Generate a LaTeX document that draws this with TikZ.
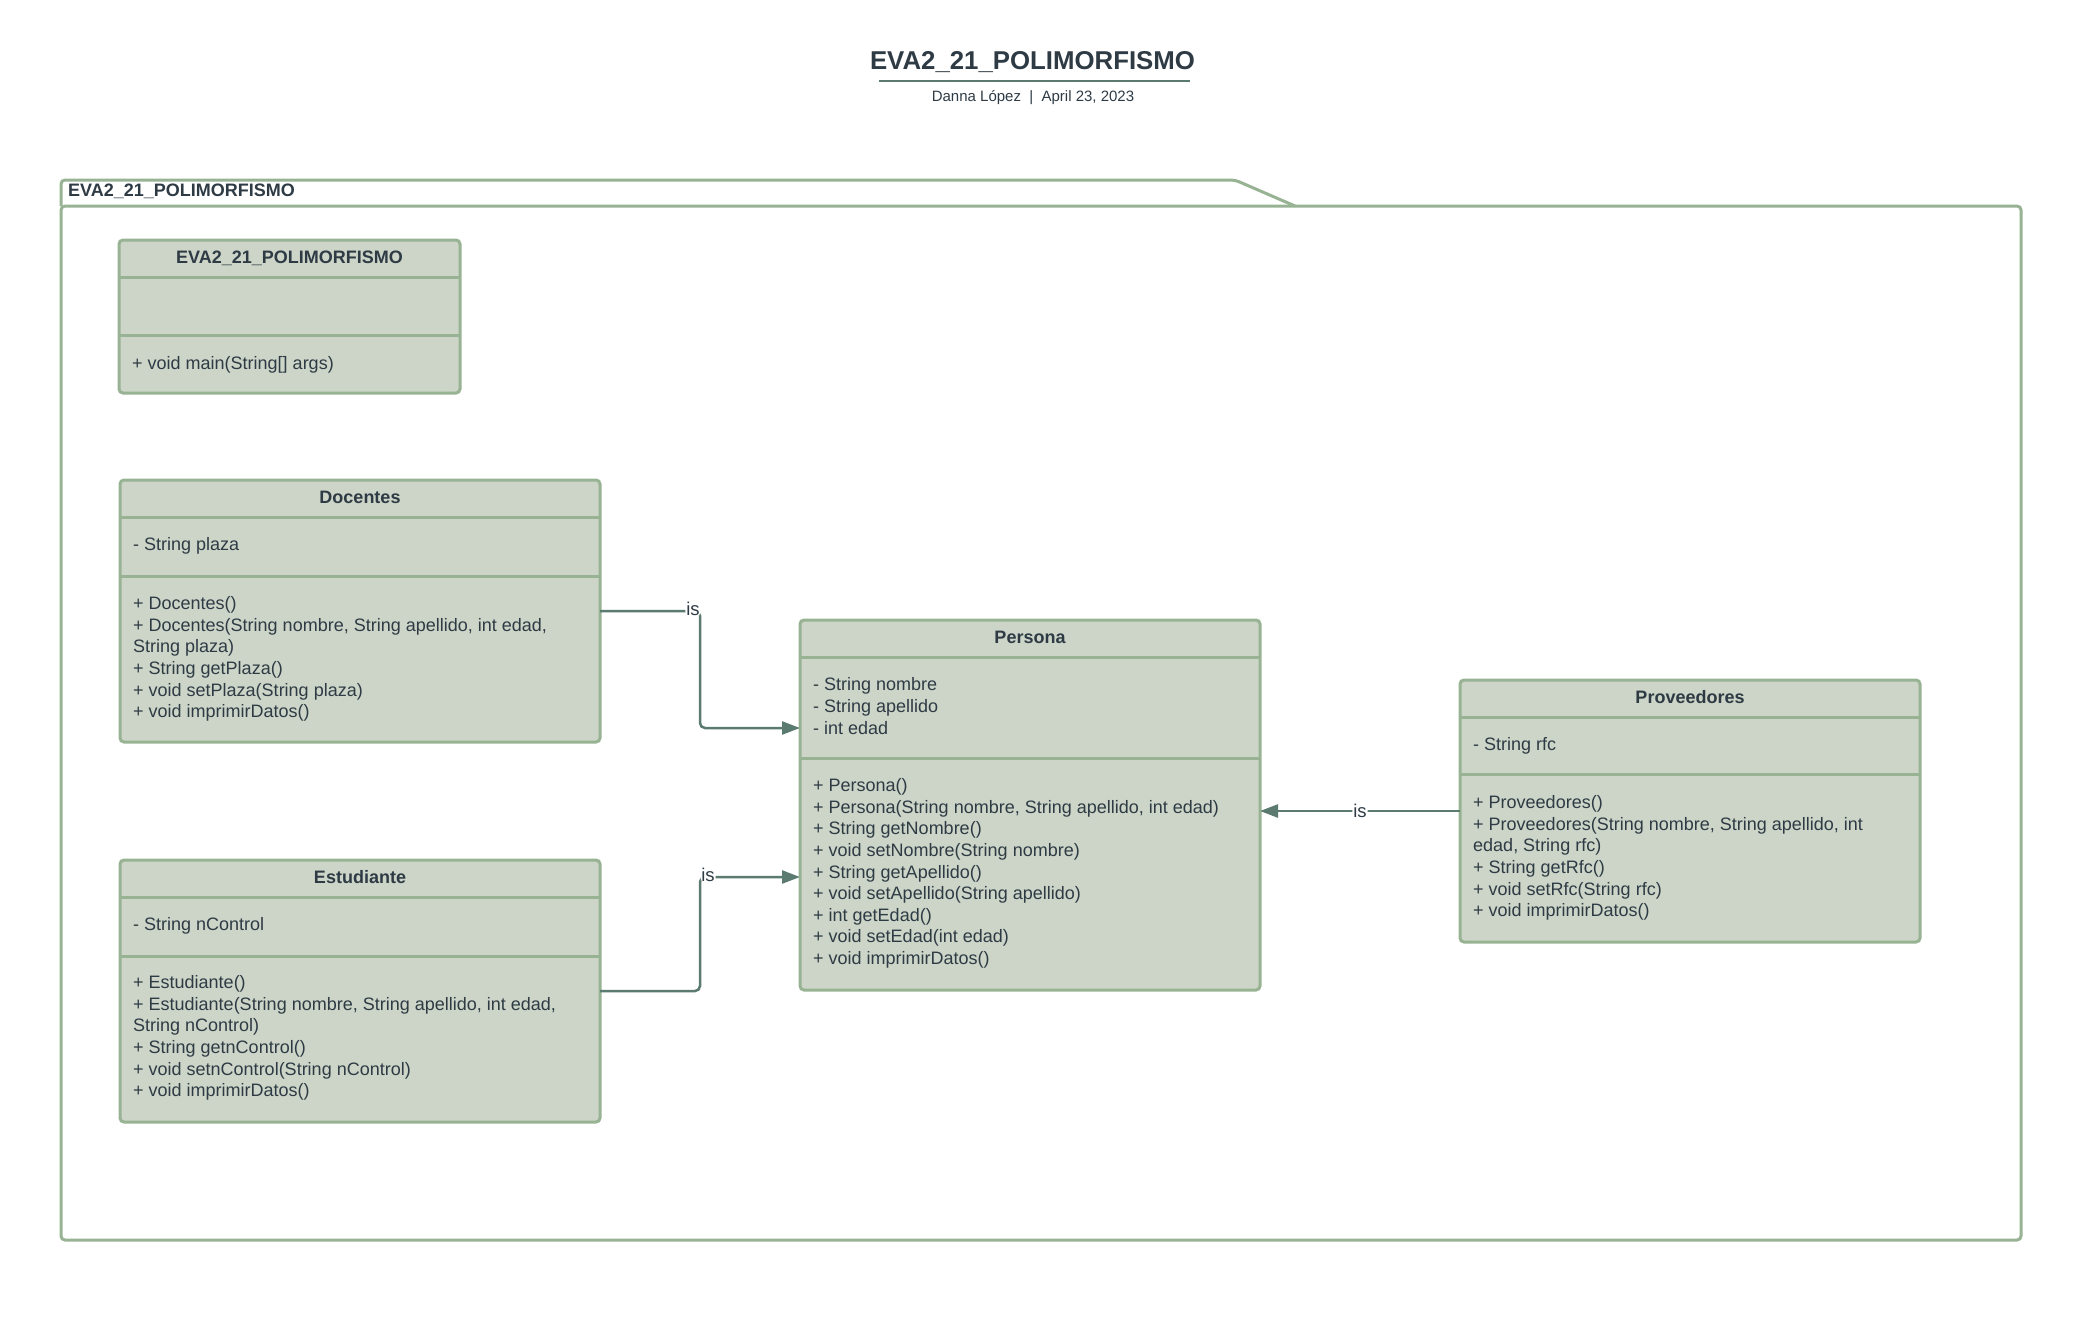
\documentclass[tikz,border=0pt]{standalone}
\usepackage{fontspec}
\setmainfont{Liberation Sans}
\usetikzlibrary{arrows.meta}
\definecolor{boxfill}{HTML}{CCD5C7}
\definecolor{boxline}{HTML}{98B393}
\definecolor{linkcol}{HTML}{5B7A70}
\definecolor{txtcol}{HTML}{2E3B45}
\tikzset{
  classbox/.style={draw=boxline, fill=boxfill, line width=3pt, rounded corners=4pt, inner sep=0pt, outer sep=0pt},
  divider/.style={draw=boxline, line width=3pt},
  classname/.style={font=\fontsize{18}{21.6}\selectfont\bfseries, text=txtcol, anchor=base, inner sep=0pt},
  member/.style={font=\fontsize{18}{21.6}\selectfont, text=txtcol, align=left, anchor=west, inner sep=0pt},
  isa/.style={draw=linkcol, line width=2.5pt, rounded corners=5pt, -{Triangle[length=18pt,width=13pt]}},
  islabel/.style={font=\fontsize{18.5}{21.6}\selectfont, text=txtcol, fill=white, inner sep=1pt},
}
\begin{document}
\begin{tikzpicture}[x=1pt, y=-1pt]
    \useasboundingbox (0,0) rectangle (2090,1326);
    % title block
    \node[font=\fontsize{25.8}{30}\selectfont\bfseries, text=txtcol, anchor=base, inner sep=0pt] (title) at (1032.5,69.5) {EVA2\_21\_POLIMORFISMO};
    \draw[linkcol, line width=2pt] (879,80.7) -- (1190,80.7);
    \node[font=\fontsize{15}{18}\selectfont, text=txtcol, anchor=base, inner sep=0pt] (subtitle) at (1033,101.7) {Danna López~ |~ April 23, 2023};
    % package frame
    \node[draw=boxline, line width=3pt, rounded corners=4pt, minimum width=1960, minimum height=1034, outer sep=0pt] (pkg) at (1041,723) {};
    \draw[boxline, line width=3pt, rounded corners=4pt] (pkg.north west) -- (61,180) -- (1235,180) -- (1295,206);
    \node[classname, anchor=base west] (pkgname) at (68,196.5) {EVA2\_21\_POLIMORFISMO};
    % main class
    \node[classbox, minimum width=341, minimum height=153] (main) at (289.5,316.5) {};
    \draw[divider] (119,277) -- (460,277);
    \draw[divider] (119,335) -- (460,335);
    \node[classname] (main-n) at (289.5,263.5) {EVA2\_21\_POLIMORFISMO};
    \node[member] (main-m) at (132,365) {+ void main(String[] args)};
    % Docentes
    \node[classbox, minimum width=480, minimum height=262] (docentes) at (360,611) {};
    \draw[divider] (120,517) -- (600,517);
    \draw[divider] (120,576) -- (600,576);
    \node[classname] (docentes-n) at (360,503.5) {Docentes};
    \node[member] (docentes-a) at (133,546) {- String plaza};
    \node[member] (docentes-m) at (133,659) {+ Docentes()\\+ Docentes(String nombre, String apellido, int edad,\\String plaza)\\+ String getPlaza()\\+ void setPlaza(String plaza)\\+ void imprimirDatos()};
    % Estudiante
    \node[classbox, minimum width=480, minimum height=262] (estudiante) at (360,991) {};
    \draw[divider] (120,897) -- (600,897);
    \draw[divider] (120,956) -- (600,956);
    \node[classname] (estudiante-n) at (360,883.5) {Estudiante};
    \node[member] (estudiante-a) at (133,926) {- String nControl};
    \node[member] (estudiante-m) at (133,1038) {+ Estudiante()\\+ Estudiante(String nombre, String apellido, int edad,\\String nControl)\\+ String getnControl()\\+ void setnControl(String nControl)\\+ void imprimirDatos()};
    % Persona
    \node[classbox, minimum width=460, minimum height=370] (persona) at (1030,805) {};
    \draw[divider] (800,657) -- (1260,657);
    \draw[divider] (800,758) -- (1260,758);
    \node[classname] (persona-n) at (1030,643.5) {Persona};
    \node[member] (persona-a) at (813,706) {- String nombre\\- String apellido\\- int edad};
    \node[member] (persona-m) at (813,873.5) {+ Persona()\\+ Persona(String nombre, String apellido, int edad)\\+ String getNombre()\\+ void setNombre(String nombre)\\+ String getApellido()\\+ void setApellido(String apellido)\\+ int getEdad()\\+ void setEdad(int edad)\\+ void imprimirDatos()};
    % Proveedores
    \node[classbox, minimum width=460, minimum height=262] (proveedores) at (1690,811) {};
    \draw[divider] (1460,717) -- (1920,717);
    \draw[divider] (1460,774) -- (1920,774);
    \node[classname] (proveedores-n) at (1690,703.5) {Proveedores};
    \node[member] (proveedores-a) at (1473,746) {- String rfc};
    \node[member] (proveedores-m) at (1473,858) {+ Proveedores()\\+ Proveedores(String nombre, String apellido, int\\edad, String rfc)\\+ String getRfc()\\+ void setRfc(String rfc)\\+ void imprimirDatos()};
    % generalizations
    \draw[isa] (docentes.east) -- ++(100,0) node[islabel, xshift=-7pt, yshift=2pt] (is-d) {is} |- ([yshift=77pt]persona.west);
    \draw[isa] (estudiante.east) -- ++(100,0) |- node[pos=0.5, islabel, xshift=8pt, yshift=2pt] (is-e) {is} ([yshift=-72pt]persona.west);
    \draw[isa] (proveedores.west) -- node[islabel] (is-p) {is} (persona.east |- proveedores.west);
\end{tikzpicture}
\end{document}
